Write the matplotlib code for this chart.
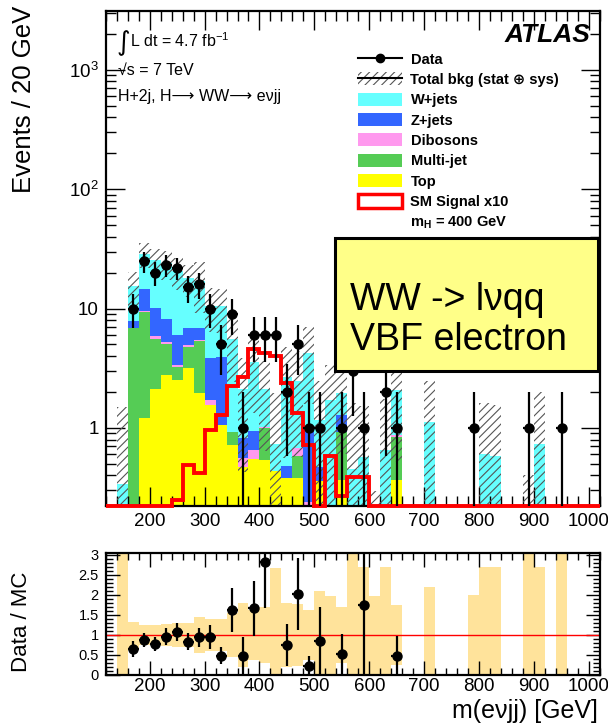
import numpy as np
import matplotlib
matplotlib.use("Agg")
import matplotlib.pyplot as plt
from matplotlib.patches import Patch, Rectangle
from matplotlib.lines import Line2D
from matplotlib.ticker import MultipleLocator, FixedLocator, FixedFormatter, LogLocator, NullFormatter

plt.rcParams['font.family'] = ['Liberation Sans', 'DejaVu Sans']
plt.rcParams['mathtext.fontset'] = 'custom'
plt.rcParams['mathtext.rm'] = 'Liberation Sans'
plt.rcParams['mathtext.it'] = 'Liberation Sans:italic'
plt.rcParams['mathtext.bf'] = 'Liberation Sans:bold'
plt.rcParams['hatch.linewidth'] = 0.8

# 20 GeV bins from 120 to 1020 GeV
bin_lo = 120
bin_w = 20
n_bins = 45

# stacked backgrounds (events per bin)
top = [0, 0, 0, 1.2, 2.1, 2.8, 2.5, 3.16, 1.95, 1.56,
       1.06, 0.72, 0.47, 0.55, 0.54, 0.44, 0.38, 0.38, 0, 0.36,
       0, 0.37, 0, 0, 0, 0, 0.37, 0, 0, 0,
       0, 0, 0, 0, 0, 0, 0, 0, 0, 0,
       0, 0, 0, 0, 0]
multijet = [0, 0, 6.85, 8.2, 3.5, 2.2, 0.75, 1.6, 3.4, 0,
            0, 0.2, 0, 0, 0.45, 0, 0, 0.2, 0, 0,
            0, 0.56, 0, 0, 0, 0, 0.47, 0, 0, 0,
            0, 0, 0, 0, 0, 0, 0, 0, 0, 0,
            0, 0, 0, 0, 0]
dibosons = [0, 0, 0, 0.05, 0.3, 0.25, 0.1, 0.22, 0.15, 0.16,
            0, 0, 0.09, 0.1, 0.03, 0, 0, 0.1, 0.24, 0,
            0, 0, 0, 0, 0, 0, 0.03, 0, 0, 0,
            0, 0, 0, 0, 0, 0, 0, 0, 0, 0,
            0, 0, 0, 0, 0]
zjets = [0, 0, 1.05, 5.1, 4.2, 2.85, 2.7, 1.95, 1.4, 2.1,
         2.9, 0, 0.26, 0.3, 0, 0, 0.1, 0, 0.72, 0.11,
         0, 0.35, 0, 0, 0, 0, 0, 0, 0, 0,
         0, 0, 0, 0, 0, 0, 0, 0, 0, 0,
         0, 0, 0, 0, 0]
wjets = [0, 0.34, 7.4, 14.2, 15.5, 15.8, 14.5, 11.0, 10.0, 6.7,
         6.5, 4.6, 1.3, 2.65, 1.1, 0.3, 2.2, 1.8, 3.3, 0.7,
         1.7, 0.67, 0.45, 0.57, 0.15, 0.65, 1.2, 0, 0, 1.13,
         0, 0, 0, 0.1, 0.6, 0.58, 0, 0, 0.1, 0.74,
         0, 0.05, 0, 0, 0]
# relative total uncertainty (stat + sys) on the background sum
bkg_rel_err = [0, 3.4, 0.32, 0.24, 0.24, 0.28, 0.3, 0.3, 0.46, 0.4,
               0.4, 0.56, 0.8, 0.63, 0.7, 1.67, 0.79, 0.77, 0.63, 1.1,
               0.98, 0.69, 2.6, 1.69, 0.98, 1.69, 0.75, 0, 0, 1.2,
               0, 0, 0, 1.0, 1.69, 1.69, 0, 0, 3.0, 1.69,
               0, 3.0, 0, 0, 0]
# SM Higgs signal, mH = 400 GeV, scaled x10
signal_x10 = [0, 0, 0, 0, 0, 0, 0.25, 0.49, 0.42, 0.97,
              1.29, 2.25, 2.69, 4.6, 4.27, 4.0, 2.4, 1.33, 0.72, 0,
              0.58, 0.27, 0.39, 0.39, 0, 0, 0, 0, 0, 0,
              0, 0, 0, 0, 0, 0, 0, 0, 0, 0,
              0, 0, 0, 0, 0]
# observed events
data = [0, 0, 10, 25, 20, 23, 22, 15, 16, 10,
        5, 9, 1, 6, 6, 6, 2, 5, 1, 1,
        0, 1, 3, 1, 0, 2, 1, 0, 0, 0,
        0, 0, 0, 1, 0, 0, 0, 0, 1, 0,
        0, 1, 0, 0, 0]

components = [
    ('Top', top, '#ffff00'),
    ('Multi-jet', multijet, '#55cc55'),
    ('Dibosons', dibosons, '#ff99ee'),
    ('Z+jets', zjets, '#3366ff'),
    ('W+jets', wjets, '#66ffff'),
]

W, H = 608, 723


def fx(px):
    return px / W


def fy(py):
    return 1 - py / H


edges = bin_lo + bin_w * np.arange(n_bins + 1)
lo_edges = edges[:-1]
centers = lo_edges + bin_w / 2

fig = plt.figure(figsize=(W / 100, H / 100), dpi=100)
ax = fig.add_axes([fx(105.7), fy(506), fx(600) - fx(105.7), fy(11) - fy(506)])
rax = fig.add_axes([fx(105.7), fy(675), fx(600) - fx(105.7), fy(553) - fy(675)])

ymin, ymax = 0.222, 3100
ax.set_yscale('log')
ax.set_xlim(120, 1020)
ax.set_ylim(ymin, ymax)

# stacked backgrounds
bottom = np.zeros(n_bins)
for name, vals, col in components:
    vals = np.asarray(vals, float)
    ax.bar(lo_edges, vals, width=bin_w, bottom=bottom, align='edge',
           color=col, linewidth=0, zorder=1)
    bottom = bottom + vals
mc = bottom

# uncertainty band on total background
rel = np.asarray(bkg_rel_err, float)
err = mc * rel
band_lo = np.clip(mc - err, 1e-3, None)
band_hi = mc + err
has_mc = mc > 0
ax.bar(lo_edges[has_mc], (band_hi - band_lo)[has_mc], width=bin_w,
       bottom=band_lo[has_mc], align='edge', fill=False, hatch='////',
       edgecolor='#555555', linewidth=0, zorder=2)

# signal: empty bins run along the lower frame
sig = np.maximum(np.asarray(signal_x10, float), ymin)
ax.stairs(sig, edges, baseline=None, color='#ff0000', linewidth=2.8,
          zorder=5, clip_on=False)

# data
d = np.asarray(data, float)
sel = d > 0
ax.errorbar(centers[sel], d[sel], yerr=np.sqrt(d[sel]), xerr=bin_w / 2,
            fmt='o', color='black', ms=6.5, elinewidth=1.6, capsize=0, zorder=6)

# axis styling
ax.xaxis.set_major_locator(MultipleLocator(100))
ax.xaxis.set_minor_locator(MultipleLocator(20))
ax.yaxis.set_major_locator(FixedLocator([1, 10, 100, 1000]))
ax.yaxis.set_major_formatter(FixedFormatter(['1', '10', '$10^2$', '$10^3$']))
ax.yaxis.set_minor_locator(LogLocator(base=10, subs=np.arange(2, 10)))
ax.yaxis.set_minor_formatter(NullFormatter())
for a in (ax, rax):
    a.tick_params(which='both', direction='in', top=True, right=True, width=1)
    a.tick_params(which='major', length=14, labelsize=13.5, pad=5)
    a.tick_params(which='minor', length=7)
    for s in a.spines.values():
        s.set_linewidth(1.6)

# ratio panel
ratio_top = 3.05
rax.set_xlim(120, 1020)
rax.set_ylim(0, ratio_top)
rax.bar(lo_edges[has_mc], (2 * rel)[has_mc], width=bin_w, bottom=(1 - rel)[has_mc],
        align='edge', color='#ffe39b', linewidth=0, zorder=1)
rax.axhline(1, color='red', lw=1, zorder=2)
with np.errstate(divide='ignore', invalid='ignore'):
    ratio = np.where(has_mc, d / mc, np.nan)
    ratio_err = np.where(has_mc, np.sqrt(d) / mc, np.nan)
rsel = sel & has_mc & (ratio <= 3)
rax.errorbar(centers[rsel], ratio[rsel], yerr=ratio_err[rsel], xerr=bin_w / 2,
             fmt='o', color='black', ms=6.5, elinewidth=1.6, capsize=0, zorder=3)
rax.xaxis.set_major_locator(MultipleLocator(100))
rax.xaxis.set_minor_locator(MultipleLocator(20))
rax.yaxis.set_major_locator(MultipleLocator(0.5))
rax.yaxis.set_minor_locator(MultipleLocator(0.1))
rax.yaxis.set_major_formatter(plt.FuncFormatter(lambda v, p: '%g' % v))
rax.tick_params(axis='y', which='major', labelsize=10.5, length=10)
rax.tick_params(axis='y', which='minor', length=5)
rax.tick_params(axis='x', which='major', length=10, pad=2)
rax.tick_params(axis='x', which='minor', length=5)

# axis titles
fig.text(fx(24), fy(6), 'Events / 20 GeV', rotation=90, ha='center', va='top', fontsize=18.5)
fig.text(fx(22), fy(622), 'Data / MC', rotation=90, ha='center', va='center', fontsize=16)
fig.text(fx(598), fy(718), 'm(eνjj) [GeV]', ha='right', va='baseline', fontsize=18)

# labels in the main panel
fig.text(fx(117), fy(50), '∫', fontsize=19, va='baseline', family=['DejaVu Sans'])
fig.text(fx(130), fy(47), 'L dt = 4.7 fb$^{-1}$', fontsize=11.5, va='baseline')
fig.text(fx(118), fy(75), '√s = 7 TeV', fontsize=11.5, va='baseline')
fig.text(fx(118), fy(101), 'H+2j, H⟶ WW⟶ eνjj', fontsize=11.5, va='baseline')
fig.text(fx(590), fy(42), 'ATLAS', fontsize=19, fontweight='bold', fontstyle='italic',
         ha='right', va='baseline')

# legend
handles = [
    Line2D([], [], color='black', marker='o', ms=6, lw=1.5),
    (Patch(facecolor='none', edgecolor='#555555', hatch='////', linewidth=0),
     Line2D([], [], color='black', lw=1.5)),
    Patch(facecolor='#66ffff', linewidth=0),
    Patch(facecolor='#3366ff', linewidth=0),
    Patch(facecolor='#ff99ee', linewidth=0),
    Patch(facecolor='#55cc55', linewidth=0),
    Patch(facecolor='#ffff00', linewidth=0),
    Patch(facecolor='white', edgecolor='#ff0000', linewidth=2.5),
    Patch(facecolor='none', edgecolor='none'),
]
labels = ['Data', 'Total bkg (stat ⊕ sys)', 'W+jets', 'Z+jets', 'Dibosons',
          'Multi-jet', 'Top', 'SM Signal x10', r'm$_{\mathbf{H}}$ = 400 GeV']
ax.legend(handles, labels, loc='upper left', bbox_to_anchor=(fx(358), fy(52)),
          bbox_transform=fig.transFigure, frameon=False,
          prop={'weight': 'bold', 'size': 10.5}, handlelength=3.0, handleheight=1.0,
          labelspacing=0.4, handletextpad=0.6, borderpad=0, borderaxespad=0)

# channel label box
box = Rectangle((fx(335), fy(371)), fx(598) - fx(335), fy(238) - fy(371),
                transform=fig.transFigure, facecolor='#ffff88', edgecolor='black',
                linewidth=2.2, zorder=10)
fig.add_artist(box)
fig.text(fx(350), fy(300), 'WW -> lνqq', fontsize=27, va='center', ha='left', zorder=11)
fig.text(fx(350), fy(340), 'VBF electron', fontsize=27, va='center', ha='left', zorder=11)

fig.savefig('out.png', dpi=100)
